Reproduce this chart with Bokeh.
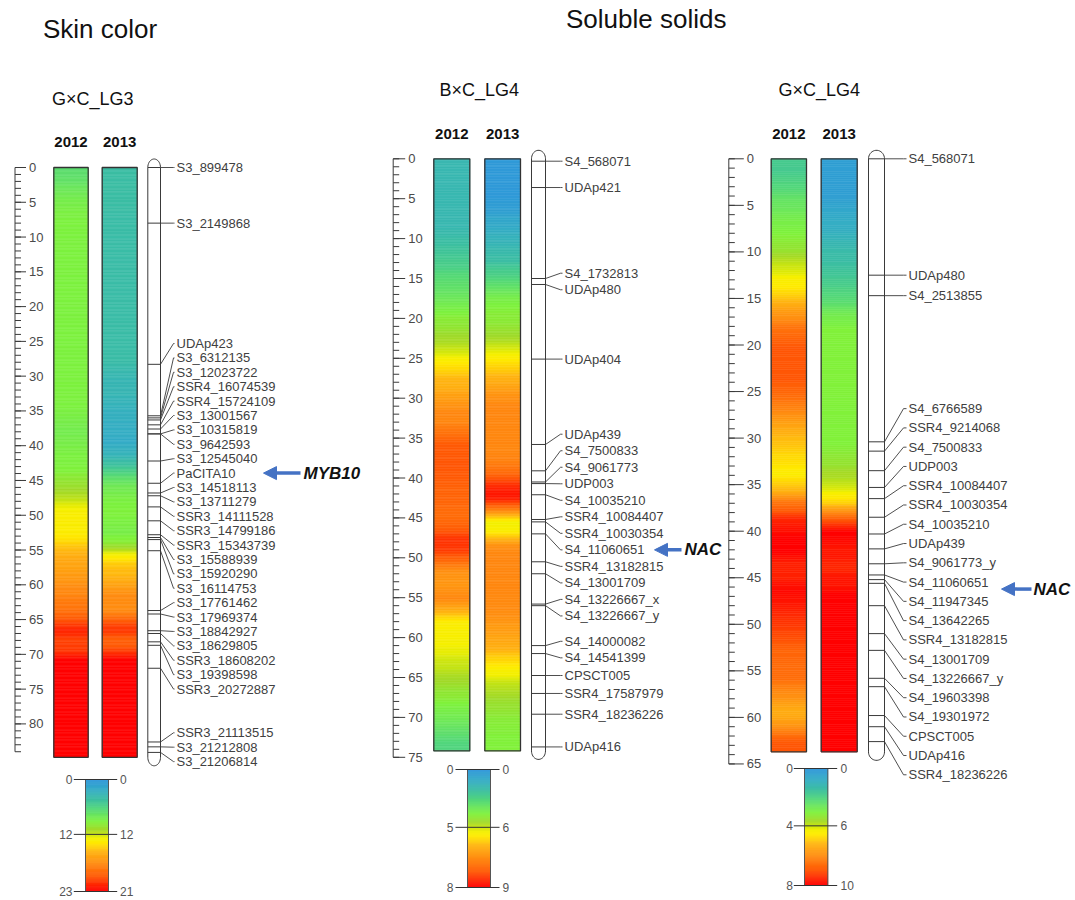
import numpy as np
from bokeh.plotting import figure
from bokeh.models import Range1d, ColumnDataSource, Arrow, NormalHead
from bokeh.transform import linear_cmap
from bokeh.core.properties import value
from bokeh.embed import file_html
from bokeh.resources import INLINE

# ------------------------------------------------------------------ data
YEARS = ["2012", "2013"]
TITLES = ["Skin color", "Soluble solids"]
GROUPS = ["G\u00d7C_LG3", "B\u00d7C_LG4", "G\u00d7C_LG4"]

# --- Skin colour, G×C LG3 (cM) ---
LG3_LENGTH = 84.8
LG3_RULER_TICKS = [0, 5, 10, 15, 20, 25, 30, 35, 40, 45, 50, 55, 60, 65, 70, 75, 80]
LG3_RULER_END = 84
LG3_2012_SCALE = [0, 12, 23]
LG3_2013_SCALE = [0, 12, 21]
LG3_2012_EDGES = [0, 1.5, 3, 4.5, 6, 36, 40, 44, 45, 47, 48, 49, 53, 54, 55, 57, 59, 61, 63, 65, 66, 68, 69.5, 84.8]
LG3_2012_LOD = [6.9, 7.6, 8.3, 8.8, 9.1, 8.6, 9.1, 9.8, 10.8, 11.5, 12.6, 13.3, 13.9, 14.8, 15.9, 16.5, 17.4, 18.3,
                19.1, 20.8, 22.4, 19.1, 23.0]
LG3_2013_EDGES = [0, 5, 29, 34, 38, 41, 43, 44.5, 46, 48, 51, 54, 55.5, 56.5, 60, 65, 65.5, 67.5, 69.5, 84.8]
LG3_2013_LOD = [4.4, 4.2, 3.4, 2.7, 2.2, 3.7, 5.9, 7.8, 8.8, 9.3, 8.8, 10.8, 13.1, 14.6, 16.6, 18.4, 20.3, 17.5, 21.0]
LG3_MARKERS = ["S3_899478", "S3_2149868", "UDAp423", "S3_6312135", "S3_12023722", "SSR4_16074539",
               "SSR4_15724109", "S3_13001567", "S3_10315819", "S3_9642593", "S3_12545040", "PaCITA10",
               "S3_14518113", "S3_13711279", "SSR3_14111528", "SSR3_14799186", "SSR3_15343739",
               "S3_15588939", "S3_15920290", "S3_16114753", "S3_17761462", "S3_17969374", "S3_18842927",
               "S3_18629805", "SSR3_18608202", "S3_19398598", "SSR3_20272887", "SSR3_21113515",
               "S3_21212808", "S3_21206814"]
LG3_CM = [0.0, 8.0, 28.3, 35.7, 36.0, 36.3, 37.0, 37.6, 38.3, 38.3, 42.2, 45.4, 46.8, 47.2, 48.8, 50.8, 52.8,
          53.2, 53.5, 55.1, 63.7, 64.2, 66.6, 67.0, 68.2, 68.7, 72.0, 82.6, 83.3, 84.1]
LG3_GENE = ("PaCITA10", "MYB10")

# --- Soluble solids, B×C LG4 ---
BXC_LENGTH = 74.2
BXC_RULER_TICKS = [0, 5, 10, 15, 20, 25, 30, 35, 40, 45, 50, 55, 60, 65, 70, 75]
BXC_RULER_END = 75
BXC_2012_SCALE = [0, 5, 8]
BXC_2013_SCALE = [0, 6, 9]
BXC_2012_EDGES = [0, 10, 13, 15.5, 18.5, 21, 22.5, 24.5, 26, 28, 30.5, 34.5, 38, 40, 44, 46, 47.8, 49.2, 50.3, 52,
                  53.7, 56.6, 58, 61.5, 63.7, 65.4, 67, 69, 72, 74.2]
BXC_2012_LOD = [1.5, 2.0, 2.6, 3.2, 4.0, 4.4, 4.8, 5.3, 5.8, 6.1, 6.6, 7.2, 7.3, 7.1, 6.9, 7.3, 7.8, 7.3, 6.7, 6.2,
                6.6, 5.5, 5.3, 5.1, 4.8, 4.4, 4.0, 3.4, 2.6]
BXC_2013_EDGES = [0, 6, 8, 10, 12.5, 14.5, 16, 17.5, 20, 22, 23.5, 24.5, 26, 28, 29.5, 38, 39.5, 40.8, 43.3, 44.3,
                  45.2, 46, 47, 48, 56, 58.5, 61, 62.8, 64.5, 66.3, 68.8, 71.3, 74.2]
BXC_2013_LOD = [0.2, 0.7, 1.2, 1.8, 2.4, 3.3, 4.0, 4.7, 5.1, 5.6, 6.1, 6.4, 6.9, 7.2, 7.6, 7.8, 8.2, 8.9, 8.3, 6.8,
                5.9, 5.3, 7.2, 7.6, 7.5, 7.2, 6.9, 6.4, 6.1, 5.5, 4.9, 4.7]
BXC_MARKERS = ["S4_568071", "UDAp421", "S4_1732813", "UDAp480", "UDAp404", "UDAp439", "S4_7500833", "S4_9061773",
               "UDP003", "S4_10035210", "SSR4_10084407", "SSR4_10030354", "S4_11060651", "SSR4_13182815",
               "S4_13001709", "S4_13226667_x", "S4_13226667_y", "S4_14000082", "S4_14541399", "CPSCT005",
               "SSR4_17587979", "SSR4_18236226", "UDAp416"]
BXC_CM = [0.3, 3.6, 15.0, 15.75, 25.1, 35.8, 39.1, 40.5, 40.7, 42.1, 45.2, 45.5, 47.0, 50.5, 52.0, 55.8, 56.0,
          61.0, 62.0, 64.75, 67.0, 69.6, 73.7]
BXC_GENE = ("S4_11060651", "NAC")

# --- Soluble solids, G×C LG4 ---
GXC_LENGTH = 63.7
GXC_RULER_TICKS = [0, 5, 10, 15, 20, 25, 30, 35, 40, 45, 50, 55, 60, 65]
GXC_RULER_END = 65
GXC_2012_SCALE = [0, 4, 8]
GXC_2013_SCALE = [0, 6, 10]
GXC_2012_EDGES = [0, 2.8, 5, 7, 9, 10, 11.5, 13.8, 15.2, 16.6, 18.8, 25.3, 27, 28.5, 30.2, 32.3, 34.4, 35.5, 37.3,
                  39.4, 43.7, 45.1, 47.3, 50.1, 53, 54.4, 55.8, 57.3, 59.4, 60.8, 61.5, 63.7]
GXC_2012_LOD = [1.8, 2.4, 2.8, 3.1, 3.4, 3.7, 4.3, 4.9, 5.4, 6.3, 7.0, 6.4, 6.0, 5.3, 5.0, 4.6, 4.4, 5.8, 7.4, 8.0,
                7.2, 8.0, 7.6, 7.1, 6.4, 6.9, 6.4, 5.8, 5.0, 6.0, 7.0]
GXC_2013_EDGES = [0, 5.4, 8.8, 12.4, 15.2, 17, 32.3, 34.4, 35.8, 37.3, 38.7, 41.9, 43.7, 44.4, 45.5, 63.7]
GXC_2013_LOD = [0.5, 1.2, 2.1, 2.9, 3.9, 4.7, 5.4, 6.0, 6.5, 7.6, 10.0, 9.5, 10.0, 9.2, 10.0]
GXC_MARKERS = ["S4_568071", "UDAp480", "S4_2513855", "S4_6766589", "SSR4_9214068", "S4_7500833", "UDP003",
               "SSR4_10084407", "SSR4_10030354", "S4_10035210", "UDAp439", "S4_9061773_y", "S4_11060651",
               "S4_11947345", "S4_13642265", "SSR4_13182815", "S4_13001709", "S4_13226667_y", "S4_19603398",
               "S4_19301972", "CPSCT005", "UDAp416", "SSR4_18236226"]
GXC_CM = [0.0, 12.5, 14.7, 30.4, 31.4, 33.5, 35.3, 36.5, 38.5, 40.3, 41.9, 43.5, 44.7, 45.2, 45.6, 48.0, 51.0,
          52.8, 55.8, 56.7, 59.8, 61.0, 62.6]
GXC_GENE = ("S4_11060651", "NAC")

# ------------------------------------------------------------------ style / layout
FONT = value("Liberation Sans")
INK = "#3a3a3a"
TXT = "#404040"
BLUE = "#4472c4"
LABEL_GAP_CM = 2.07
MID_T = 0.49
BLUR_CM = 1.4      # rendering softness of the heat-bar colour transitions
STEP_CM = 0.2
STOP_T = [0.00, 0.10, 0.18, 0.26, 0.33, 0.38, 0.45, 0.49, 0.53, 0.57, 0.65, 0.76, 0.87, 1.00]
STOP_C = ["#2f96dc", "#35aec4", "#3dbfa2", "#52d67c", "#6fe85a", "#80f23c", "#a2da2a", "#c6e414",
          "#f5f000", "#ffea00", "#ffb412", "#ff8a12", "#ff5a06", "#ff0000"]


def _rgb(h):
    return [int(h[i:i + 2], 16) for i in (1, 3, 5)]


_rgbs = np.array([_rgb(c) for c in STOP_C], float)
PALETTE = ["#%02x%02x%02x" % tuple(int(round(np.interp(g, STOP_T, _rgbs[:, k]))) for k in range(3))
           for g in np.linspace(0, 1, 256)]


def lod_to_t(lod, scale):
    return np.interp(np.asarray(lod, float), scale, [0.0, MID_T, 1.0])


def render_strips(edges, lod, scale):
    """Split the read bands into thin strips and soften band borders (rendering only)."""
    e = np.asarray(edges, float)
    t_band = lod_to_t(lod, scale)
    fe = np.append(np.arange(e[0], e[-1], STEP_CM), e[-1])
    fc = (fe[:-1] + fe[1:]) / 2
    idx = np.clip(np.searchsorted(e, fc, side="right") - 1, 0, len(t_band) - 1)
    t = t_band[idx]
    k = max(1, int(round(BLUR_CM / STEP_CM)))
    pad = np.concatenate([np.full(k, t[0]), t, np.full(k, t[-1])])
    ker = np.ones(2 * k + 1) / (2 * k + 1)
    ts = np.convolve(pad, ker, mode="same")[k:-k]
    return fe[:-1], fe[1:], ts


def spread_labels(pos, gap):
    """MapChart-like label layout: overlapping labels form groups (grown around their mean),
    and each final group is centred on the mid-range of its markers."""
    pos = np.asarray(pos, float)
    order = list(np.argsort(pos, kind="stable"))
    groups = [[i] for i in order]

    def span(g, centre):
        s = centre - (len(g) - 1) * gap / 2
        return s, s + (len(g) - 1) * gap

    merged = True
    while merged:
        merged = False
        for k in range(len(groups) - 1):
            _, e1 = span(groups[k], pos[groups[k]].mean())
            s2, _ = span(groups[k + 1], pos[groups[k + 1]].mean())
            if s2 < e1 + gap - 1e-9:
                groups[k] = groups[k] + groups[k + 1]
                del groups[k + 1]
                merged = True
                break
    out = np.empty_like(pos)
    for g in groups:
        s, _ = span(g, (pos[g].min() + pos[g].max()) / 2)
        for j, i in enumerate(g):
            out[i] = s + j * gap
    return out


W, H = 1075, 900
X0, Y0 = 0, 0

PANELS = [
    dict(key="lg3", y0=167.0, scale=6.955, ruler_x=14.5, major=11, minor=6, bars=[(53.3, 87.7), (101.7, 136.7)],
         chrom=(147.3, 160.0), diag_end=173, label_x=176, year_y=141.5, group_xy=(51.5, 98),
         legend=dict(bar=(85, 108), top=779, bottom=891, left_x=72, right_x=119.5, line=(73.3, 116.7)),
         gene_arrow=(300, 261, 303, 0),
         length=LG3_LENGTH, ruler_ticks=LG3_RULER_TICKS, ruler_end=LG3_RULER_END,
         profiles=[(LG3_2012_EDGES, LG3_2012_LOD, LG3_2012_SCALE), (LG3_2013_EDGES, LG3_2013_LOD, LG3_2013_SCALE)],
         markers=LG3_MARKERS, cms=LG3_CM, gene=LG3_GENE, group=GROUPS[0]),
    dict(key="bxc", y0=158.3, scale=7.98, ruler_x=392.7, major=12, minor=6, bars=[(433.3, 469.3), (484.3, 520.0)],
         chrom=(531.0, 545.0), diag_end=560, label_x=564, year_y=133, group_xy=(439, 89),
         legend=dict(bar=(467, 490), top=769, bottom=887, left_x=453, right_x=502, line=(455, 499)),
         gene_arrow=(681, 652, 684, 0),
         length=BXC_LENGTH, ruler_ticks=BXC_RULER_TICKS, ruler_end=BXC_RULER_END,
         profiles=[(BXC_2012_EDGES, BXC_2012_LOD, BXC_2012_SCALE), (BXC_2013_EDGES, BXC_2013_LOD, BXC_2013_SCALE)],
         markers=BXC_MARKERS, cms=BXC_CM, gene=BXC_GENE, group=GROUPS[1]),
    dict(key="gxc", y0=158.3, scale=9.31, ruler_x=728.3, major=15, minor=6, bars=[(770.7, 806.0), (820.7, 856.7)],
         chrom=(868.0, 884.0), diag_end=903, label_x=908, year_y=133, group_xy=(778, 89),
         legend=dict(bar=(804, 827.3), top=768, bottom=885, left_x=792.5, right_x=840, line=(793.3, 836.7)),
         gene_arrow=(1031, 999, 1033, 7),
         length=GXC_LENGTH, ruler_ticks=GXC_RULER_TICKS, ruler_end=GXC_RULER_END,
         profiles=[(GXC_2012_EDGES, GXC_2012_LOD, GXC_2012_SCALE), (GXC_2013_EDGES, GXC_2013_LOD, GXC_2013_SCALE)],
         markers=GXC_MARKERS, cms=GXC_CM, gene=GXC_GENE, group=GROUPS[2]),
]

p = figure(width=W, height=H, x_range=Range1d(X0, X0 + W), y_range=Range1d(Y0 + H, Y0),
           output_backend="svg", toolbar_location=None, x_axis_location=None, y_axis_location=None,
           min_border=0)
p.grid.visible = False
p.outline_line_color = None
p.background_fill_color = "white"
p.border_fill_color = "white"

p.extra_y_ranges = {c["key"]: Range1d(start=(Y0 + H - c["y0"]) / c["scale"], end=(Y0 - c["y0"]) / c["scale"])
                    for c in PANELS}

cmap = linear_cmap("t", PALETTE, 0, 1)

# titles
p.text(x=[42.5], y=[28.5], text=[TITLES[0]], text_font=FONT, text_font_size="26px", text_color="#111111",
       text_baseline="middle")
p.text(x=[565.5], y=[18.5], text=[TITLES[1]], text_font=FONT, text_font_size="26px", text_color="#111111",
       text_baseline="middle")

for c in PANELS:
    rn = c["key"]
    s = c["scale"]
    # group title and years
    p.text(x=[c["group_xy"][0]], y=[c["group_xy"][1]], text=[c["group"]], text_font=FONT,
           text_font_size="18px", text_color="#111111", text_baseline="middle")
    p.text(x=[(a + b) / 2 for a, b in c["bars"]], y=[c["year_y"]] * 2, text=YEARS, text_font=FONT,
           text_font_size="15px", text_font_style="bold", text_color="#111111", text_align="center",
           text_baseline="middle")

    # ruler
    rx = c["ruler_x"]
    minor = np.arange(0, c["ruler_end"] + 0.01, 1.0)
    p.segment(x0=rx, x1=rx + c["minor"], y0=minor, y1=minor, y_range_name=rn, line_color=INK, line_width=1)
    ticks = np.array(c["ruler_ticks"], float)
    p.segment(x0=rx, x1=rx + c["major"], y0=ticks, y1=ticks, y_range_name=rn, line_color=INK, line_width=1)
    p.segment(x0=[rx], x1=[rx], y0=[0], y1=[c["ruler_end"]], y_range_name=rn, line_color=INK, line_width=1)
    p.text(x=rx + c["major"] + 3, y=ticks, text=[str(int(t)) for t in c["ruler_ticks"]], y_range_name=rn,
           text_font=FONT, text_font_size="13px", text_color="#4a4a4a", text_baseline="middle")

    # heat bars
    for (xl, xr), (edges, lod, scale) in zip(c["bars"], c["profiles"]):
        tops, bots, ts = render_strips(edges, lod, scale)
        src = ColumnDataSource(dict(top=tops, bottom=bots, t=ts))
        p.quad(left=xl, right=xr, top="top", bottom="bottom", source=src, y_range_name=rn,
               fill_color=cmap, line_color=cmap, line_width=0.6)
        p.quad(left=[xl], right=[xr], top=[edges[0]], bottom=[edges[-1]], y_range_name=rn, fill_color=None,
               line_color="#333333", line_width=1.3)

    # chromosome outline
    cl, cr = c["chrom"]
    cx, hw = (cl + cr) / 2, (cr - cl) / 2
    cap = 8.5 / s
    L = c["length"]
    a_bot = np.linspace(np.pi, 0, 20)
    a_top = np.linspace(0, -np.pi, 20)
    xs = list(cx + hw * np.cos(a_bot)) + list(cx + hw * np.cos(a_top))
    ys = list(L + cap * np.sin(a_bot)) + list(0 + cap * np.sin(a_top))
    p.patch(x=xs, y=ys, y_range_name=rn, fill_color="white", line_color=INK, line_width=1)

    cms = np.asarray(c["cms"], float)
    labs = spread_labels(cms, LABEL_GAP_CM)
    p.segment(x0=cl, x1=cr, y0=cms, y1=cms, y_range_name=rn, line_color=INK, line_width=1)
    p.multi_line(xs=[[cr, c["diag_end"], c["label_x"] - 2] for _ in cms],
                 ys=[[m, l, l] for m, l in zip(cms, labs)], y_range_name=rn, line_color=INK, line_width=0.9)
    p.text(x=c["label_x"], y=labs, text=c["markers"], y_range_name=rn, text_font=FONT,
           text_font_size="13px", text_color=TXT, text_baseline="middle")

    # gene arrow
    gi = c["markers"].index(c["gene"][0])
    x_tail, x_tip, x_txt, dy_px = c["gene_arrow"]
    gy = labs[gi] + dy_px / s
    p.add_layout(Arrow(end=NormalHead(size=13, fill_color=BLUE, line_color=BLUE), x_start=x_tail, y_start=gy,
                       x_end=x_tip + 2, y_end=gy, line_color=BLUE, line_width=3.5, y_range_name=rn))
    p.text(x=[x_txt], y=[gy], text=[c["gene"][1]], y_range_name=rn, text_font=FONT, text_font_size="17px",
           text_font_style="bold italic", text_color="#111111", text_baseline="middle")

    # colour legend
    lg = c["legend"]
    top, bot = lg["top"], lg["bottom"]
    tg = np.linspace(0, 1, 121)
    lsrc = ColumnDataSource(dict(top=top + tg[:-1] * (bot - top), bottom=top + tg[1:] * (bot - top),
                                 t=(tg[:-1] + tg[1:]) / 2))
    p.quad(left=lg["bar"][0], right=lg["bar"][1], top="top", bottom="bottom", source=lsrc,
           fill_color=cmap, line_color=cmap, line_width=0.6)
    p.quad(left=[lg["bar"][0]], right=[lg["bar"][1]], top=[top], bottom=[bot], fill_color=None,
           line_color="#555555", line_width=1)
    ly = [top + t * (bot - top) for t in (0.0, MID_T, 1.0)]
    p.segment(x0=lg["line"][0], x1=lg["line"][1], y0=ly, y1=ly, line_color="#333333", line_width=1)
    sc12, sc13 = c["profiles"][0][2], c["profiles"][1][2]
    p.text(x=lg["left_x"], y=ly, text=[str(v) for v in sc12], text_font=FONT, text_font_size="12px",
           text_color="#555555", text_align="right", text_baseline="middle")
    p.text(x=lg["right_x"], y=ly, text=[str(v) for v in sc13], text_font=FONT, text_font_size="12px",
           text_color="#555555", text_align="left", text_baseline="middle")

open("out.html", "w").write(file_html(p, INLINE))
